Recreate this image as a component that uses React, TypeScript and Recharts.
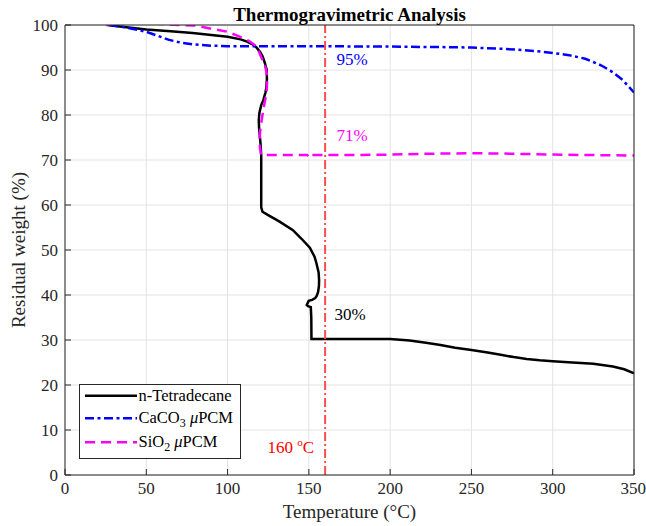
import React from 'react';
import { LineChart, Line, XAxis, YAxis, CartesianGrid, ReferenceLine, ReferenceDot, Legend } from 'recharts';

const FONT = '"Liberation Serif", "Times New Roman", serif';
const AXIS = '#262626';

const tempTicks = [0, 50, 100, 150, 200, 250, 300, 350];
const weightTicks = [0, 10, 20, 30, 40, 50, 60, 70, 80, 90, 100];

// n-Tetradecane (curve folds back in temperature)
const tetraTemp = [26, 35, 50, 65, 78.5, 90, 100, 108, 112, 116, 118, 120, 121.6, 123, 124.1, 124.2, 123.8, 123.3, 122, 120.7, 119.6, 119.2, 119.4, 119.8, 120.3, 120.7, 120.7, 120.7, 121.5, 124.7, 132, 140.2, 145.5, 150.6, 153.5, 154.7, 156, 156.3, 156.2, 155.7, 154.8, 153.9, 152, 149.9, 148.7, 149.5, 151.2, 151.5, 151.6, 160, 180, 200, 212, 222, 231, 240, 250, 260, 268, 276, 284, 292, 300, 312, 325, 337, 344, 350];
const tetraWeight = [100, 99.6, 99.0, 98.6, 98.2, 97.8, 97.4, 96.8, 96.3, 95.6, 94.9, 94.0, 93.0, 91.5, 90, 88, 86, 85, 83.3, 82.2, 80.5, 78.9, 77, 75.5, 73.5, 71, 65, 59.5, 58.5, 57.8, 56.3, 54.4, 52.5, 50.5, 48.5, 47, 45, 43.3, 42, 40.7, 39.8, 39.3, 38.9, 38.7, 37.8, 37.5, 37.3, 35, 30.2, 30.2, 30.2, 30.2, 29.9, 29.4, 28.9, 28.3, 27.8, 27.2, 26.7, 26.2, 25.8, 25.5, 25.3, 25.0, 24.7, 24.1, 23.5, 22.6];

// CaCO3 uPCM
const caco3Temp = [27.4, 35, 42, 50, 57, 64, 71, 78.5, 90, 100, 120, 145, 200, 230, 250, 270, 290, 300, 310, 320, 330, 337, 343, 350];
const caco3Weight = [100, 99.6, 99.1, 98.5, 97.6, 96.7, 96.1, 95.7, 95.4, 95.3, 95.3, 95.3, 95.2, 95.1, 95.0, 94.7, 94.2, 93.8, 93.3, 92.5, 91.0, 89.5, 87.8, 85.0];

// SiO2 uPCM
const sio2Temp = [25, 30, 45, 60, 70, 80, 91, 100, 107.5, 113, 116.5, 119, 121, 123, 124.1, 124.3, 124.1, 123.5, 122.7, 121.7, 120.7, 120, 119.6, 120, 120.7, 130, 149, 150, 151, 175, 200, 225, 250, 275, 300, 325, 350];
const sio2Weight = [100, 100.3, 100.5, 100.2, 100, 99.9, 99.1, 98.5, 97.4, 96.5, 95.6, 94.3, 92.6, 91, 89.3, 87.5, 85.6, 84, 82.6, 80.5, 78.2, 76.2, 74.4, 72.5, 71.1, 71.1, 71.1, 70.6, 71.1, 71.1, 71.2, 71.4, 71.5, 71.4, 71.2, 71.1, 71.0];

const zip = (t: number[], w: number[]) => t.map((v, i) => ({ t: v, w: w[i] }));

const tetraData = zip(tetraTemp, tetraWeight);
const caco3Data = zip(caco3Temp, caco3Weight);
const sio2Data = zip(sio2Temp, sio2Weight);

const series = [
  { key: 'tetra', name: 'n-Tetradecane', data: tetraData, color: '#000000', dash: undefined as string | undefined },
  { key: 'caco3', name: 'CaCO3 uPCM', data: caco3Data, color: '#0000ff', dash: '9 3.5 3 3.5' },
  { key: 'sio2', name: 'SiO2 uPCM', data: sio2Data, color: '#ff00ff', dash: '10 6' },
];

const Note = (props: any) => {
  const { viewBox, text, color, sup } = props;
  if (!viewBox) return null;
  return (
    <text x={viewBox.x} y={viewBox.y} fill={color} fontSize={17} fontFamily={FONT} style={{ whiteSpace: 'pre' }}>
      {text}
      {sup ? (
        <>
          <tspan fontSize={11} dy={-7}>{sup[0]}</tspan>
          <tspan dy={7}>{sup[1]}</tspan>
        </>
      ) : null}
    </text>
  );
};

const legendLabel = (i: number) => {
  if (i === 0) return <>n-Tetradecane</>;
  const base = i === 1 ? 'CaCO' : 'SiO';
  const sub = i === 1 ? '3' : '2';
  return (
    <>
      {base}
      <tspan fontSize={12} dy={4}>{sub}</tspan>
      <tspan dy={-4}>{' '}</tspan>
      <tspan fontStyle="italic">μ</tspan>
      <tspan>PCM</tspan>
    </>
  );
};

const lineY = [10.7, 33.3, 57.3];
const textY = [15.5, 38, 61.5];

const LegendBox = () => (
  <div style={{ width: 162, height: 75, boxSizing: 'border-box', border: `1px solid ${AXIS}`, background: '#fff' }}>
    <svg width={160} height={73} style={{ display: 'block' }}>
      {series.map((s, i) => (
        <g key={s.key}>
          <line x1={5} x2={57} y1={lineY[i]} y2={lineY[i]} stroke={s.color} strokeWidth={2.5} strokeDasharray={s.dash} />
          <text x={58.5} y={textY[i]} fontSize={16.5} fontFamily={FONT} fill="#000" style={{ whiteSpace: 'pre' }}>
            {legendLabel(i)}
          </text>
        </g>
      ))}
    </svg>
  </div>
);

const XTitle = (props: any) => {
  const { viewBox } = props;
  if (!viewBox) return null;
  return (
    <text x={viewBox.x + viewBox.width / 2} y={viewBox.y + viewBox.height - 8} textAnchor="middle" fontSize={19} fontFamily={FONT} fill={AXIS}>
      Temperature (°C)
    </text>
  );
};

const YTitle = (props: any) => {
  const { viewBox } = props;
  if (!viewBox) return null;
  const x = 25;
  const y = viewBox.y + viewBox.height / 2;
  return (
    <text x={x} y={y} transform={`rotate(-90 ${x} ${y})`} textAnchor="middle" fontSize={19} fontFamily={FONT} fill={AXIS}>
      Residual weight (%)
    </text>
  );
};

export default function App() {
  const tickStyle = { fill: AXIS, fontSize: 17, fontFamily: FONT };
  return (
    <div style={{ position: 'absolute', left: 0, top: 0, width: 646, height: 526, background: '#fff' }}>
      <div
        style={{
          position: 'absolute', left: 65, top: 5, width: 569, textAlign: 'center',
          fontFamily: FONT, fontWeight: 'bold', fontSize: 19, lineHeight: '19px', color: '#000', zIndex: 2,
        }}
      >
        Thermogravimetric Analysis
      </div>
      <LineChart width={646} height={526} margin={{ top: 15, right: 2, bottom: 0, left: 0 }}>
        <CartesianGrid stroke="#e3e3e3" horizontalPoints={undefined} />
        <XAxis
          dataKey="t" type="number" domain={[0, 350]} ticks={tempTicks} allowDataOverflow
          height={51} stroke={AXIS} tickSize={-6} tickMargin={13} tick={tickStyle}
          label={<XTitle />}
        />
        <XAxis
          xAxisId="top" orientation="top" type="number" domain={[0, 350]} ticks={tempTicks}
          allowDataOverflow height={10} stroke={AXIS} tickSize={-6} tick={false}
        />
        <YAxis
          type="number" domain={[0, 100]} ticks={weightTicks} allowDataOverflow
          width={65} stroke={AXIS} tickSize={-6} tickMargin={13} tick={tickStyle}
          label={<YTitle />}
        />
        <YAxis
          yAxisId="right" orientation="right" type="number" domain={[0, 100]} ticks={weightTicks}
          allowDataOverflow width={10} stroke={AXIS} tickSize={-6} tick={false}
        />
        {series.map((s) => (
          <Line
            key={s.key} data={s.data} dataKey="w" name={s.name} type="linear"
            stroke={s.color} strokeWidth={2.5} strokeDasharray={s.dash}
            dot={false} activeDot={false} isAnimationActive={false}
          />
        ))}
        <ReferenceLine x={160} stroke="#ff4d4d" strokeWidth={2} strokeDasharray="9 3 2 3" />
        <ReferenceDot x={167} y={91.1} r={0} fill="none" stroke="none" label={<Note text="95%" color="#0000ff" />} />
        <ReferenceDot x={167} y={74.3} r={0} fill="none" stroke="none" label={<Note text="71%" color="#ff00ff" />} />
        <ReferenceDot x={165.7} y={34.4} r={0} fill="none" stroke="none" label={<Note text="30%" color="#000000" />} />
        <ReferenceDot x={124.5} y={5.0} r={0} fill="none" stroke="none" label={<Note text="160 " color="#ff0000" sup={['o', 'C']} />} />
        <Legend
          layout="vertical" align="center" verticalAlign="middle"
          wrapperStyle={{ left: 79, top: 384, width: 162, height: 75 }}
          content={() => <LegendBox />}
        />
      </LineChart>
    </div>
  );
}
